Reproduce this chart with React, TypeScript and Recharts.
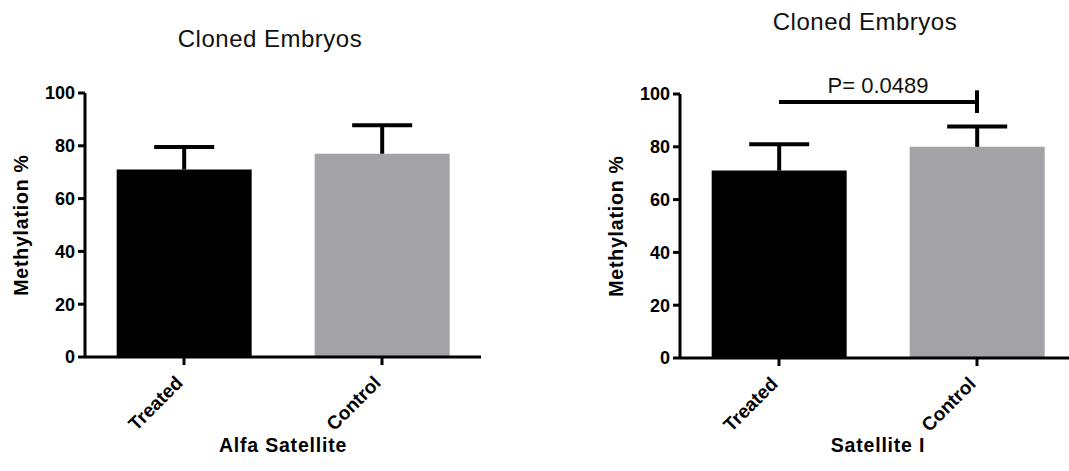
import { Bar, BarChart, Cell, ReferenceLine, XAxis, YAxis } from "recharts";

const categories = ["Treated", "Control"];
const alfaMean = [71, 77];
const alfaSd = [8.5, 10.8];
const satMean = [71, 80];
const satSd = [10, 7.7];
const barColors = ["#000000", "#A3A2A7"];
const yTicks = [0, 20, 40, 60, 80, 100];

// significance bracket on the Satellite I panel
const pLabel = "P= 0.0489";
const pLineY = 97;
const pTickLow = 92.8;
const pTickHigh = 101.4;

const FONT = "'Liberation Sans', Arial, Helvetica, sans-serif";

const alfaData = categories.map((name, i) => ({ name, mean: alfaMean[i], sd: alfaSd[i] }));
const satData = categories.map((name, i) => ({ name, mean: satMean[i], sd: satSd[i] }));

const ErrorCap = (props: any) => {
  const { x, y, width, height } = props;
  const cx = x + width / 2;
  return (
    <g stroke="#000" strokeWidth={4}>
      <line x1={cx} x2={cx} y1={y + height} y2={y} />
      <line x1={cx - 30} x2={cx + 30} y1={y} y2={y} />
    </g>
  );
};

const XTick = (props: any) => {
  const { x, y, payload } = props;
  return (
    <g transform={`translate(${x},${y + 17})`}>
      <text
        x={0}
        y={0}
        textAnchor="end"
        transform="rotate(-45)"
        fill="#000"
        fontSize={19}
        fontWeight="bold"
        fontFamily={FONT}
      >
        {payload.value}
      </text>
    </g>
  );
};

const YLabel = (props: any) => {
  const { viewBox } = props;
  const cx = viewBox.x + viewBox.width - 64;
  const cy = viewBox.y + viewBox.height / 2;
  return (
    <text
      x={cx}
      y={cy}
      transform={`rotate(-90, ${cx}, ${cy})`}
      textAnchor="middle"
      dominantBaseline="central"
      fill="#000"
      fontSize={19.5}
      fontWeight="bold"
      fontFamily={FONT}
      letterSpacing={0.8}
    >
      Methylation %
    </text>
  );
};

function Panel({ data, xLabel, top, sig }: { data: any[]; xLabel: string; top: number; sig?: boolean }) {
  return (
    <BarChart
      width={481}
      height={471}
      data={data}
      margin={{ top, right: 0, left: 20, bottom: 0 }}
      barCategoryGap="16%"
    >
      <XAxis
        dataKey="name"
        height={471 - top - 264}
        axisLine={{ stroke: "#000", strokeWidth: 3 }}
        tickLine={{ stroke: "#000", strokeWidth: 3 }}
        tickSize={8}
        tick={<XTick />}
        interval={0}
        label={{
          value: xLabel,
          position: "insideBottom",
          offset: 19,
          fill: "#000",
          fontSize: 19.5,
          fontWeight: "bold",
          fontFamily: FONT,
          letterSpacing: 0.8,
        }}
      />
      <YAxis
        width={65}
        domain={[0, 100]}
        ticks={yTicks}
        interval={0}
        axisLine={{ stroke: "#000", strokeWidth: 3 }}
        tickLine={{ stroke: "#000", strokeWidth: 3 }}
        tickSize={7}
        tickMargin={3}
        tick={{ fill: "#000", fontSize: 18, fontWeight: "bold", fontFamily: FONT }}
        label={<YLabel />}
      />
      <Bar dataKey="mean" stackId="s" isAnimationActive={false}>
        {data.map((d, i) => (
          <Cell key={d.name} fill={barColors[i]} />
        ))}
      </Bar>
      <Bar dataKey="sd" stackId="s" isAnimationActive={false} shape={<ErrorCap />} />
      {sig && (
        <ReferenceLine
          segment={[
            { x: categories[0], y: pLineY },
            { x: categories[1], y: pLineY },
          ]}
          stroke="#000"
          strokeWidth={4}
          ifOverflow="visible"
          label={{
            value: pLabel,
            position: "top",
            offset: 9,
            fill: "#111",
            fontSize: 22,
            fontFamily: FONT,
          }}
        />
      )}
      {sig && (
        <ReferenceLine
          segment={[
            { x: categories[1], y: pTickLow },
            { x: categories[1], y: pTickHigh },
          ]}
          stroke="#000"
          strokeWidth={4}
          ifOverflow="visible"
        />
      )}
    </BarChart>
  );
}

const titleStyle = {
  position: "absolute" as const,
  width: 300,
  textAlign: "center" as const,
  fontFamily: FONT,
  fontSize: 24,
  lineHeight: "24px",
  letterSpacing: 0.5,
  color: "#111",
};

export default function App() {
  return (
    <div
      style={{
        position: "absolute",
        left: 0,
        top: 0,
        width: 1069,
        height: 471,
        overflow: "hidden",
        background: "#fff",
      }}
    >
      <div style={{ ...titleStyle, left: 270 - 150, top: 27 }}>Cloned Embryos</div>
      <div style={{ ...titleStyle, left: 865 - 150, top: 10 }}>Cloned Embryos</div>
      <div style={{ position: "absolute", left: 0, top: 0 }}>
        <Panel data={alfaData} xLabel="Alfa Satellite" top={93} />
      </div>
      <div style={{ position: "absolute", left: 595, top: 0 }}>
        <Panel data={satData} xLabel="Satellite I" top={94} sig />
      </div>
    </div>
  );
}
